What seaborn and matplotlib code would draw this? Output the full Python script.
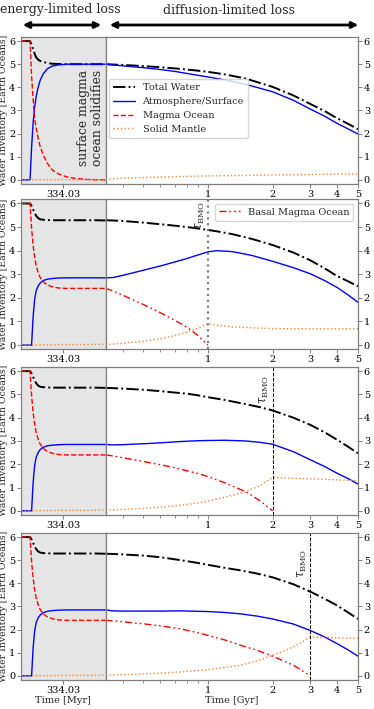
import numpy as np
import pandas as pd
import matplotlib
matplotlib.use("Agg")
import matplotlib.pyplot as plt
from matplotlib.patches import FancyArrowPatch
from matplotlib.ticker import FixedLocator, NullFormatter, FixedFormatter
import seaborn as sns

sns.set_style("ticks")
plt.rcParams["font.family"] = ["DejaVu Serif"]
plt.rcParams["mathtext.fontset"] = "dejavuserif"

# ---- early phase (surface magma ocean), time in Myr ----
T_MYR = [334.02500, 334.02607, 334.02625, 334.02643, 334.02661, 334.02679,
         334.02702, 334.02726, 334.02762, 334.02810, 334.02869, 334.02940,
         334.03036, 334.03143, 334.03262, 334.03381, 334.03500]

# panel 1 (no basal magma ocean)
EARLY_TOTAL_1 = [6, 6, 5.85, 5.65, 5.45, 5.3, 5.2, 5.14, 5.1, 5.05, 5.02, 5.01, 5.0, 5.0, 5.0, 5.0, 5.0]
EARLY_ATM_1 = [0, 0, 1.4, 2.45, 3.15, 3.6, 4.0, 4.3, 4.58, 4.8, 4.92, 4.97, 5.0, 5.0, 5.0, 5.0, 5.0]
EARLY_MO_1 = [6, 6, 4.5, 3.5, 2.65, 2.25, 1.8, 1.44, 1.08, 0.72, 0.43, 0.26, 0.13, 0.06, 0.02, 0.0, 0.0]
EARLY_SOLID_1 = [0, 0, 0, 0, 0, 0, 0, 0.01, 0.01, 0.01, 0.01, 0.01, 0.01, 0.01, 0.01, 0.01, 0.01]

# panels 2-4 (with basal magma ocean)
EARLY_TOTAL_B = [6, 6, 5.9, 5.75, 5.6, 5.48, 5.38, 5.33, 5.31, 5.3, 5.29, 5.29, 5.29, 5.29, 5.29, 5.29, 5.28]
EARLY_ATM_B = [0, 0, 0, 1.2, 1.94, 2.3, 2.5, 2.63, 2.73, 2.79, 2.82, 2.84, 2.85, 2.85, 2.85, 2.85, 2.85]
EARLY_MO_B = [6, 6, 4.95, 4.23, 3.73, 3.37, 3.08, 2.87, 2.68, 2.55, 2.47, 2.42, 2.4, 2.4, 2.4, 2.4, 2.4]
EARLY_SOLID_B = [0, 0, 0, 0, 0, 0, 0, 0.01, 0.01, 0.01, 0.01, 0.02, 0.02, 0.02, 0.02, 0.03, 0.03]

# ---- late phase, time in Gyr ----
T_GYR_1 = [0.334, 0.4, 0.5, 0.6, 0.7, 0.8, 0.9, 1.0, 1.2, 1.5, 2.0, 2.5, 3.0, 3.5, 4.0, 4.5, 5.0]
LATE_TOTAL_1 = [5.0, 4.97, 4.92, 4.87, 4.82, 4.77, 4.72, 4.67, 4.56, 4.38, 4.02, 3.65, 3.28, 2.97, 2.66, 2.42, 2.19]
LATE_ATM_1 = [5.0, 4.93, 4.85, 4.77, 4.69, 4.6, 4.52, 4.45, 4.32, 4.13, 3.81, 3.44, 3.06, 2.75, 2.44, 2.2, 1.98]
LATE_SOLID_1 = [0.02, 0.07, 0.1, 0.12, 0.14, 0.15, 0.16, 0.17, 0.18, 0.19, 0.21, 0.22, 0.23, 0.24, 0.25, 0.25, 0.26]

T_GYR_2 = [0.334, 0.36, 0.4, 0.5, 0.6, 0.7, 0.8, 0.9, 1.0, 1.1, 1.3, 1.6, 2.0, 2.5, 3.0, 3.5, 4.0, 4.5, 5.0]
LATE_TOTAL_2 = [5.29, 5.28, 5.26, 5.19, 5.12, 5.06, 5.0, 4.94, 4.88, 4.82, 4.7, 4.5, 4.24, 3.92, 3.59, 3.25, 2.92, 2.7, 2.49]
LATE_ATM_2 = [2.85, 2.86, 2.95, 3.17, 3.35, 3.52, 3.67, 3.82, 3.95, 4.0, 3.96, 3.8, 3.55, 3.28, 3.02, 2.73, 2.44, 2.12, 1.81]
LATE_SOLID_2 = [0.03, 0.04, 0.07, 0.16, 0.27, 0.4, 0.55, 0.72, 0.9, 0.84, 0.77, 0.73, 0.7, 0.69, 0.69, 0.69, 0.69, 0.69, 0.69]
T_BMO_2 = [0.334, 0.36, 0.4, 0.5, 0.6, 0.7, 0.8, 0.9, 1.0]
BMO_2 = [2.4, 2.3, 2.12, 1.72, 1.37, 1.05, 0.75, 0.4, 0.0]

T_GYR_3 = [0.334, 0.36, 0.4, 0.5, 0.6, 0.7, 0.8, 0.9, 1.0, 1.2, 1.5, 1.75, 2.0, 2.5, 3.0, 3.5, 4.0, 4.5, 5.0]
LATE_TOTAL_3 = [5.28, 5.27, 5.25, 5.2, 5.14, 5.08, 5.03, 4.96, 4.88, 4.76, 4.58, 4.45, 4.31, 4.0, 3.69, 3.37, 3.05, 2.75, 2.47]
LATE_ATM_3 = [2.85, 2.83, 2.84, 2.88, 2.92, 2.96, 2.99, 3.01, 3.02, 3.03, 3.0, 2.94, 2.86, 2.54, 2.19, 1.9, 1.61, 1.38, 1.15]
LATE_SOLID_3 = [0.03, 0.04, 0.06, 0.1, 0.15, 0.21, 0.27, 0.34, 0.42, 0.58, 0.82, 1.08, 1.43, 1.4, 1.37, 1.35, 1.33, 1.31, 1.3]
T_BMO_3 = [0.334, 0.36, 0.4, 0.5, 0.6, 0.7, 0.8, 0.9, 1.0, 1.2, 1.5, 1.75, 2.0]
BMO_3 = [2.4, 2.36, 2.28, 2.12, 1.98, 1.85, 1.72, 1.6, 1.47, 1.2, 0.82, 0.43, 0.0]

T_GYR_4 = [0.334, 0.36, 0.4, 0.5, 0.6, 0.75, 0.9, 1.0, 1.2, 1.42, 1.7, 2.0, 2.5, 3.0, 3.5, 4.0, 4.5, 5.0]
LATE_TOTAL_4 = [5.28, 5.27, 5.25, 5.2, 5.13, 5.0, 4.88, 4.8, 4.67, 4.56, 4.42, 4.26, 3.96, 3.64, 3.33, 3.04, 2.74, 2.46]
LATE_ATM_4 = [2.85, 2.81, 2.8, 2.8, 2.8, 2.81, 2.79, 2.78, 2.74, 2.68, 2.58, 2.46, 2.24, 1.96, 1.68, 1.39, 1.12, 0.85]
LATE_SOLID_4 = [0.03, 0.04, 0.05, 0.08, 0.12, 0.17, 0.23, 0.27, 0.36, 0.46, 0.65, 0.89, 1.25, 1.68, 1.66, 1.64, 1.63, 1.62]
T_BMO_4 = [0.334, 0.36, 0.4, 0.5, 0.6, 0.75, 0.9, 1.0, 1.2, 1.42, 1.7, 2.0, 2.5, 3.0]
BMO_4 = [2.4, 2.38, 2.34, 2.25, 2.16, 2.03, 1.86, 1.75, 1.55, 1.32, 1.1, 0.85, 0.46, 0.0]

TAU_BMO = [None, 1.0, 2.0, 3.0]
LABELS = ["Total Water", "Atmosphere/Surface", "Magma Ocean", "Solid Mantle", "Basal Magma Ocean"]

C_TOTAL, C_ATM, C_MO, C_SOLID = "black", "blue", "red", "#f0883a"
LS_BMO = (0, (5, 2.2, 1.2, 2.2, 1.2, 2.2))

early = [
    (EARLY_TOTAL_1, EARLY_ATM_1, EARLY_MO_1, EARLY_SOLID_1),
    (EARLY_TOTAL_B, EARLY_ATM_B, EARLY_MO_B, EARLY_SOLID_B),
    (EARLY_TOTAL_B, EARLY_ATM_B, EARLY_MO_B, EARLY_SOLID_B),
    (EARLY_TOTAL_B, EARLY_ATM_B, EARLY_MO_B, EARLY_SOLID_B),
]
late = [
    (T_GYR_1, LATE_TOTAL_1, LATE_ATM_1, LATE_SOLID_1, None, None),
    (T_GYR_2, LATE_TOTAL_2, LATE_ATM_2, LATE_SOLID_2, T_BMO_2, BMO_2),
    (T_GYR_3, LATE_TOTAL_3, LATE_ATM_3, LATE_SOLID_3, T_BMO_3, BMO_3),
    (T_GYR_4, LATE_TOTAL_4, LATE_ATM_4, LATE_SOLID_4, T_BMO_4, BMO_4),
]

fig = plt.figure(figsize=(3.74, 7.09), dpi=100)
W, H = 374.0, 709.0
panel_px = [(36.7, 184.0), (199.0, 349.3), (366.7, 515.0), (532.7, 680.0)]
x_left, x_mid, x_right = 21.0, 105.7, 358.0
YLIM = (-0.18, 6.19)
SPINE = "#7f7f7f"
FS = 7


def style_axes(ax):
    for s in ax.spines.values():
        s.set_color(SPINE)
        s.set_linewidth(0.9)
    ax.tick_params(colors="black", labelsize=FS, length=3, width=0.7, pad=1.2)
    ax.tick_params(which="both", color=SPINE)


def line(ax, x, y, **kw):
    sns.lineplot(x=x, y=y, ax=ax, estimator=None, sort=False, legend=False, **kw)


for i, (top, bot) in enumerate(panel_px):
    rect_b = 1 - bot / H
    h = (bot - top) / H
    axl = fig.add_axes([x_left / W, rect_b, (x_mid - x_left) / W, h])
    axr = fig.add_axes([x_mid / W, rect_b, (x_right - x_mid) / W, h])

    tot, atm, mo, sol = early[i]
    axl.set_facecolor("#e5e5e5")
    line(axl, T_MYR, tot, color=C_TOTAL, linestyle="-.", linewidth=1.4, label=LABELS[0])
    line(axl, T_MYR, atm, color=C_ATM, linestyle="-", linewidth=1.0, label=LABELS[1])
    line(axl, T_MYR, mo, color=C_MO, linestyle="--", linewidth=1.0, label=LABELS[2])
    line(axl, T_MYR, sol, color=C_SOLID, linestyle=":", linewidth=1.0, label=LABELS[3])
    axl.set_xlim(334.025, 334.035)
    axl.set_ylim(*YLIM)
    axl.set_xticks([334.03])
    axl.set_xticklabels(["334.03"])
    axl.set_yticks(range(7))
    axl.set_xlabel("")
    style_axes(axl)
    axl.set_ylabel("Water Inventory [Earth Oceans]", fontsize=6.7, labelpad=0.5)

    tg, ltot, latm, lsol, tb, bmo = late[i]
    line(axr, tg, ltot, color=C_TOTAL, linestyle="-.", linewidth=1.4, label=LABELS[0])
    line(axr, tg, latm, color=C_ATM, linestyle="-", linewidth=1.0, label=LABELS[1])
    line(axr, tg, lsol, color=C_SOLID, linestyle=":", linewidth=1.0, label=LABELS[3])
    if tb is not None:
        line(axr, tb, bmo, color=C_MO, linestyle=LS_BMO, linewidth=1.0, label=LABELS[4])
    axr.set_xscale("log")
    axr.set_xlim(0.33403, 5.0)
    axr.set_ylim(*YLIM)
    axr.xaxis.set_major_locator(FixedLocator([1, 2, 3, 4, 5]))
    axr.xaxis.set_major_formatter(FixedFormatter(["1", "2", "3", "4", "5"]))
    axr.xaxis.set_minor_locator(FixedLocator([0.4, 0.5, 0.6, 0.7, 0.8, 0.9]))
    axr.xaxis.set_minor_formatter(NullFormatter())
    axr.set_yticks(range(7))
    axr.yaxis.tick_right()
    axr.set_ylabel("")
    axr.set_xlabel("")
    style_axes(axr)
    axr.tick_params(which="minor", length=2)

    tau = TAU_BMO[i]
    if tau is not None:
        if i == 1:
            axr.axvline(tau, color="gray", linestyle=":", linewidth=1.6)
        else:
            axr.axvline(tau, color="black", linestyle="--", linewidth=0.7)
        ytxt = [None, 6.12, 5.85, 5.5][i]
        axr.text(tau / 1.012, ytxt, r"$\tau_{\rm BMO}$", rotation=90, ha="right",
                 va="top", fontsize=8.5)

    if i == 0:
        axl.text(334.03315, 2.67, "surface magma\nocean solidifies", rotation=90,
                 ha="center", va="center", fontsize=8.8, linespacing=1.1)
        hl, ll = axl.get_legend_handles_labels()
        hr, lr = axr.get_legend_handles_labels()
        handles = [hr[0], hr[1], hl[2], hr[2]]
        labels = [LABELS[0], LABELS[1], LABELS[2], LABELS[3]]
        axr.legend(handles, labels, loc="upper left", bbox_to_anchor=(0.015, 0.71),
                   borderaxespad=0, fontsize=FS, framealpha=0.8, handlelength=2.2)
    elif i == 1:
        hr, lr = axr.get_legend_handles_labels()
        axr.legend([hr[-1]], [LABELS[4]], loc="upper right", fontsize=FS,
                   framealpha=0.8, handlelength=2.2)

    if i == 3:
        axl.set_xlabel("Time [Myr]", fontsize=FS, labelpad=1)
        axr.set_xlabel("Time [Gyr]", fontsize=FS, labelpad=1)

# top annotations
fig.text(60 / W, 1 - 10 / H, "energy-limited loss", ha="center", va="center", fontsize=9)
fig.text(229 / W, 1 - 10 / H, "diffusion-limited loss", ha="center", va="center", fontsize=9)
for x0, x1 in [(20, 104), (107, 361)]:
    arr = FancyArrowPatch((x0 / W, 1 - 25 / H), (x1 / W, 1 - 25 / H),
                          transform=fig.transFigure, arrowstyle="<|-|>",
                          mutation_scale=9, linewidth=2, color="black")
    fig.add_artist(arr)

plt.savefig("out.png", dpi=100)
plt.close()
